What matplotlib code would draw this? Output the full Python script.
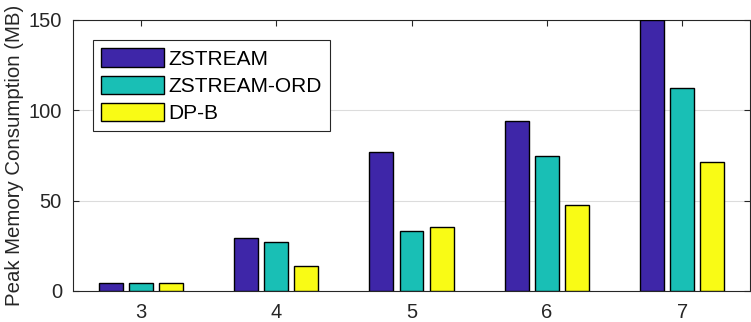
import numpy as np
import matplotlib
matplotlib.use("Agg")
import matplotlib.pyplot as plt

groups = [3, 4, 5, 6, 7]
series = ["ZSTREAM", "ZSTREAM-ORD", "DP-B"]
zstream = [4.6, 29.2, 76.9, 93.9, 149.8]
zstream_ord = [4.2, 27.0, 33.0, 74.5, 112.2]
dp_b = [4.2, 13.8, 35.2, 47.4, 71.2]
colors = ["#3E26A8", "#19BFB5", "#F9FB15"]

plt.rcParams["font.family"] = ["Arial", "Liberation Sans", "DejaVu Sans"]

fig = plt.figure(figsize=(7.51, 3.22), dpi=100)
ax = fig.add_axes([0.0972, 0.0963, 0.9015, 0.8416])

x = np.array(groups, dtype=float)
width = 0.177
offset = 0.222
for i, (vals, name, col) in enumerate(zip([zstream, zstream_ord, dp_b], series, colors)):
    ax.bar(x + (i - 1) * offset, vals, width, color=col, edgecolor="black",
           linewidth=1.0, label=name, zorder=3)

ax.set_xlim(2.5, 7.5)
ax.set_ylim(0, 150)
ax.set_xticks(groups)
ax.set_yticks([0, 50, 100, 150])
ax.tick_params(direction="in", top=True, right=True, labelsize=14.5,
               colors="#262626", length=4)
ax.tick_params(axis="x", pad=9)
ax.tick_params(axis="y", pad=8)
ax.yaxis.grid(True, color="#dcdcdc", lw=0.8, zorder=0)
ax.set_axisbelow(True)
for s in ax.spines.values():
    s.set_color("#262626")
    s.set_linewidth(0.8)
ax.set_ylabel("Peak Memory Consumption (MB)", fontsize=14.7, color="#262626", labelpad=3)

leg = ax.legend(loc="upper left", bbox_to_anchor=(0.0295, 0.926), borderaxespad=0,
                fontsize=15, handlelength=3.0, handleheight=1.0, handletextpad=0.2,
                labelspacing=0.32, borderpad=0.4, fancybox=False, framealpha=1)
leg.get_frame().set_edgecolor("#262626")
leg.get_frame().set_linewidth(0.8)

fig.savefig("out.png", dpi=100)
